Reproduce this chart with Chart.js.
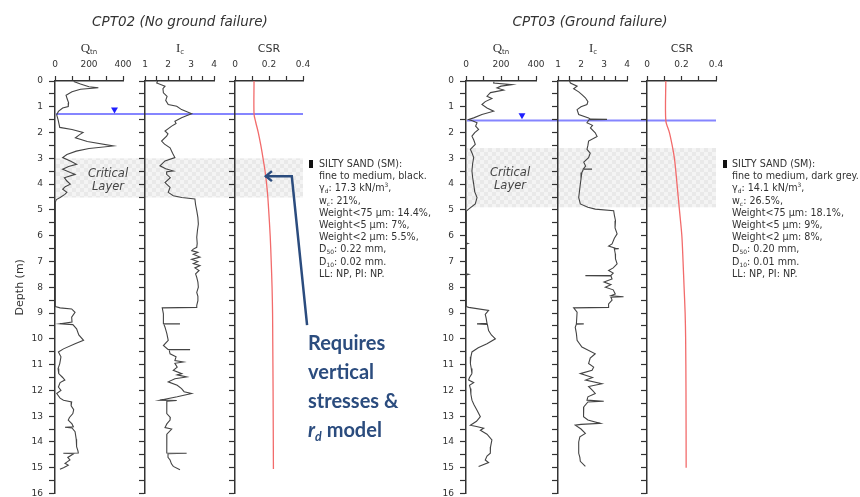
<!DOCTYPE html>
<html lang="en">
<head>
<meta charset="UTF-8">
<title>CPT02 / CPT03 profiles</title>
<style>
  html, body { margin: 0; padding: 0; background: #fff; overflow: hidden; }
  #wrap { position: relative; width: 860px; height: 497px; overflow: hidden; font-family: "DejaVu Sans", sans-serif; color: #333; }
  #wrap canvas { position: absolute; left: 0; top: 0; }
  .t { position: absolute; white-space: nowrap; }
  .ctr { transform: translate(-50%, -50%); text-align: center; }
  .title { font: italic 13.5px "DejaVu Sans", sans-serif; color: #333; }
  .hdr { font: 11px "DejaVu Sans", sans-serif; color: #333; }
  .serif { font: 13px "Liberation Serif", serif; color: #333; }
  sub, sup { font-size: 0.62em; line-height: 0; }
  sub { vertical-align: -0.3em; }
  sup { vertical-align: 0.6em; }
  .hdr sub, .serif sub { font-family: "DejaVu Sans", sans-serif; font-size: 7px; }
  .soil { font: 9.6px/12.2px "DejaVu Sans", sans-serif; color: #333; }
  .bar { position: absolute; width: 3.5px; height: 7.5px; background: #111; }
  .crit { font: italic 11.5px/13px "DejaVu Sans", sans-serif; color: #444; }
  .note { font: bold 20px/29px Lato, sans-serif; color: #2b4c7e; }
</style>
<script src="https://cdn.jsdelivr.net/npm/chart.js"></script>
</head>
<body>
<div id="wrap">
  <canvas id="q02" width="860" height="510"></canvas>
  <canvas id="i02" width="860" height="510"></canvas>
  <canvas id="c02" width="860" height="510"></canvas>
  <canvas id="q03" width="860" height="510"></canvas>
  <canvas id="i03" width="860" height="510"></canvas>
  <canvas id="c03" width="860" height="510"></canvas>

  <div class="t ctr title" style="left:180px; top:21px;">CPT02 (No ground failure)</div>
  <div class="t ctr title" style="left:590px; top:21px;">CPT03 (Ground failure)</div>

  <div class="t ctr serif" style="left:89px; top:48px;">Q<sub>tn</sub></div>
  <div class="t ctr serif" style="left:180px; top:48px;">I<sub>c</sub></div>
  <div class="t ctr hdr" style="left:269px; top:48px;">CSR</div>
  <div class="t ctr serif" style="left:501px; top:48px;">Q<sub>tn</sub></div>
  <div class="t ctr serif" style="left:593px; top:48px;">I<sub>c</sub></div>
  <div class="t ctr hdr" style="left:682px; top:48px;">CSR</div>

  <div class="t ctr crit" style="left:108px; top:179.5px;">Critical<br>Layer</div>
  <div class="t ctr crit" style="left:510px; top:178.5px;">Critical<br>Layer</div>

  <div class="bar" style="left:309px; top:160px;"></div>
  <div class="t soil" style="left:319px; top:158px;">SILTY SAND (SM):<br>fine to medium, black.<br>γ<sub>d</sub>: 17.3 kN/m<sup>3</sup>,<br>w<sub>c</sub>: 21%,<br>Weight&lt;75 µm: 14.4%,<br>Weight&lt;5 µm: 7%,<br>Weight&lt;2 µm: 5.5%,<br>D<sub>50</sub>: 0.22 mm,<br>D<sub>10</sub>: 0.02 mm.<br>LL: NP, PI: NP.</div>

  <div class="bar" style="left:723px; top:160px;"></div>
  <div class="t soil" style="left:732px; top:158px;">SILTY SAND (SM):<br>fine to medium, dark grey.<br>γ<sub>d</sub>: 14.1 kN/m<sup>3</sup>,<br>w<sub>c</sub>: 26.5%,<br>Weight&lt;75 µm: 18.1%,<br>Weight&lt;5 µm: 9%,<br>Weight&lt;2 µm: 8%,<br>D<sub>50</sub>: 0.20 mm,<br>D<sub>10</sub>: 0.01 mm.<br>LL: NP, PI: NP.</div>

  <div class="t note" style="left:308px; top:328px;">Requires<br>vertical<br>stresses &amp;<br><i>r<sub>d</sub></i> model</div>
</div>

<script>
// ---- axes ----
const depthTicks = [0,0.5,1,1.5,2,2.5,3,3.5,4,4.5,5,5.5,6,6.5,7,7.5,8,8.5,9,9.5,10,10.5,11,11.5,12,12.5,13,13.5,14,14.5,15,15.5,16];
const qtnTicks = [0, 100, 200, 300, 400];
const qtnLabels = [0, 200, 400];
const icTicks = [1, 1.5, 2, 2.5, 3, 3.5, 4];
const icLabels = [1, 2, 3, 4];
const csrTicks = [0, 0.1, 0.2, 0.3, 0.4];
const csrLabels = [0, 0.2, 0.4];

// ---- CPT02 (no ground failure) ----
const qtn02Depth = [0.02,0.12,0.22,0.26,0.32,0.42,0.55,0.7,0.85,0.99,1.05,1.18,1.31,1.5,1.8,1.88,2.0,2.08,2.2,2.35,2.52,2.62,2.72,2.85,2.97,3.1,3.23,3.32,3.42,3.55,3.62,3.75,3.88,4.0,4.1,4.2,4.32,4.4,4.52,4.6,4.7,8.75,8.8,8.84,8.97,9.16,9.35,9.42,9.45,9.61,9.85,10.06,10.19,10.39,10.51,10.7,10.96,11.15,11.35,11.5,11.6,11.7,11.87,12.0,12.12,12.3,12.38,12.45,12.6,12.75,12.9,13.05,13.15,13.3,13.41,13.43,13.46,13.6,13.9,14.18,14.35,14.43,14.44,14.46,14.6,14.7,14.83,14.9,15.0,15.06];
const qtn02 = [110,150,200,255,150,100,65,72,80,78,45,20,10,18,28,100,165,145,120,190,343,200,125,70,45,90,127,80,45,90,118,55,70,90,60,45,70,58,30,8,2,2,30,98,118,98,100,29,105,127,140,168,118,50,20,35,28,18,22,45,58,30,20,35,10,30,50,98,95,110,105,85,78,100,108,59,100,118,125,127,135,137,49,110,75,88,59,78,50,29];
const ic02Depth = [0,0.08,0.2,0.3,0.46,0.6,0.75,0.91,0.98,1.11,1.2,1.27,1.35,1.43,1.56,1.65,1.75,1.94,2.05,2.14,2.33,2.45,2.59,2.8,2.97,3.1,3.29,3.4,3.49,3.52,3.62,3.75,3.94,4.13,4.32,4.45,4.52,4.58,4.8,5.03,5.3,5.55,5.8,6.06,6.3,6.45,6.52,6.58,6.65,6.72,6.83,6.92,7.0,7.08,7.16,7.25,7.35,7.48,7.62,7.8,8.0,8.2,8.35,8.52,8.7,8.78,8.8,9.03,9.41,9.42,9.43,9.55,9.8,10.06,10.26,10.41,10.42,10.43,10.58,10.7,10.84,10.9,10.95,11.1,11.22,11.35,11.4,11.48,11.55,11.67,11.8,11.93,12.05,12.12,12.25,12.38,12.39,12.42,12.57,12.75,12.9,13.05,13.15,13.3,13.44,13.5,13.7,13.92,14.2,14.43,14.44,14.46,14.6,14.7,14.85,14.95,15.08];
const ic02 = [1.55,1.51,1.87,1.78,1.8,1.96,1.9,2.01,2.38,2.59,2.85,3.03,2.8,2.59,2.3,2.35,2.16,1.87,2.0,1.94,1.72,1.85,2.09,2.2,2.3,1.87,1.65,1.9,2.23,1.95,1.94,2.1,1.87,2.09,2.01,2.23,2.6,3.17,3.2,3.25,3.3,3.32,3.28,3.25,3.27,3.25,3.1,3.03,3.3,3.1,3.39,3.03,3.3,3.1,3.39,3.17,3.35,3.2,3.25,3.3,3.32,3.25,3.3,3.3,3.25,3.25,1.75,1.8,1.8,2.52,1.82,1.87,1.95,2.01,1.8,2.0,2.96,2.05,2.09,2.35,2.3,2.67,2.3,2.4,2.23,2.6,2.4,2.81,2.3,2.01,2.4,2.59,2.7,3.03,2.4,1.65,2.38,1.95,1.94,1.95,1.95,2.1,2.09,1.95,1.87,2.16,1.95,1.94,1.95,1.95,2.81,2.0,2.0,2.09,2.15,2.23,2.52];
const csr02Depth = [0,1.28,1.6,2,2.5,3,3.5,4,4.5,5,6,7,8,9,10,12,15.05];
const csr02 = [0.112,0.112,0.122,0.137,0.152,0.165,0.177,0.186,0.193,0.198,0.207,0.213,0.218,0.221,0.222,0.224,0.226];
const water02 = 1.28;
const layer02 = [3.0, 4.52];

// ---- CPT03 (ground failure) ----
const qtn03Depth = [0.02,0.08,0.14,0.2,0.27,0.35,0.45,0.59,0.68,0.8,0.91,1.05,1.17,1.3,1.43,1.49,1.55,1.62,1.75,1.88,2.0,2.14,2.3,2.46,2.65,2.8,2.97,3.2,3.49,3.75,4.0,4.3,4.52,4.77,4.97,5.05,6.28,6.3,6.32,7.48,7.5,7.52,8.75,8.78,8.9,9.05,9.2,9.4,9.42,9.44,9.68,9.85,10.0,10.19,10.35,10.51,10.7,10.96,11.15,11.35,11.5,11.6,11.7,11.8,11.93,12.15,12.38,12.55,12.77,13.02,13.2,13.35,13.4,13.47,13.55,13.7,13.92,14.2,14.44,14.55,14.7,14.8,14.95];
const qtn03 = [160,158,263,200,177,215,140,120,148,110,91,120,158,91,44,15,40,63,55,72,50,34,45,53,25,35,44,38,34,38,44,50,63,53,15,2,2,12,2,2,15,2,2,15,129,110,115,120,63,122,129,145,168,120,70,34,28,25,30,34,20,15,44,20,25,28,34,45,63,82,60,25,60,101,82,120,148,140,139,120,110,129,72];
const ic03Depth = [0,0.08,0.2,0.3,0.42,0.53,0.65,0.8,0.91,1.0,1.11,1.3,1.43,1.48,1.49,1.5,1.62,1.72,1.82,2.01,2.15,2.33,2.5,2.65,2.8,2.97,3.15,3.3,3.41,3.42,3.43,3.55,3.8,4.0,4.3,4.52,4.77,4.9,4.97,5.03,5.2,5.42,5.7,5.93,6.1,6.32,6.4,6.49,6.5,6.51,6.7,6.9,7.09,7.25,7.35,7.45,7.54,7.55,7.56,7.68,7.8,7.9,8.0,8.1,8.26,8.33,8.37,8.39,8.5,8.65,8.78,8.8,8.97,9.41,9.42,9.43,9.55,9.8,10.06,10.32,10.58,10.75,10.96,11.1,11.22,11.35,11.5,11.6,11.74,11.85,12.0,12.12,12.25,12.38,12.42,12.45,12.64,12.85,13.02,13.15,13.28,13.32,13.35,13.5,13.67,13.8,14.0,14.2,14.44,14.6,14.75,14.95];
const ic03 = [1.5,1.54,1.83,1.68,1.9,2.04,2.19,2.3,2.26,2.0,1.83,1.9,2.33,2.4,3.13,2.35,2.26,2.5,2.41,2.62,2.7,2.33,2.3,2.26,2.4,2.33,2.12,2.2,2.1,2.48,2.1,2.04,2.0,1.97,1.93,1.9,1.97,2.3,2.62,3.42,3.45,3.5,3.48,3.57,3.45,3.35,3.2,3.5,3.64,3.45,3.49,3.5,3.57,3.4,3.2,3.4,3.3,2.19,3.3,3.35,3.0,3.3,3.06,3.4,3.49,3.3,3.85,3.3,3.35,3.2,3.2,1.68,1.83,1.8,2.12,1.8,1.75,1.8,1.83,2.04,2.62,2.4,2.33,2.55,2.48,1.97,2.5,2.2,2.91,2.33,2.5,2.62,2.3,2.26,2.99,2.3,2.12,2.1,2.12,2.3,2.84,2.0,1.75,2.0,2.19,1.95,1.9,1.9,1.9,1.95,1.97,2.19];
const csr03Depth = [0,1.53,2,2.5,3,3.5,4,4.5,5,6,7,8,9,10,12,15];
const csr03 = [0.109,0.109,0.13,0.146,0.159,0.167,0.174,0.181,0.188,0.202,0.209,0.215,0.221,0.224,0.226,0.227];
const water03 = 1.53;
const layer03 = [2.6, 4.9];

// water-table symbol (value, depth) and the note arrow path (CSR, depth)
const wtMark02 = [350, 1.106];
const wtMark03 = [320, 1.33];
const arrowPath = [[0.424, 9.47], [0.334, 3.69], [0.176, 3.69]];

// ---- layout ----
const CW = 860, CH = 510, TOP = 81, BOTTOM = 493.5, XAXIS_H = 22;
const AXIS = '#333';
const TRACE = '#444';
const CSR_RED = '#f26b6b';

const checker = document.createElement('canvas');
checker.width = 8; checker.height = 8;
(function () {
  const g = checker.getContext('2d');
  g.fillStyle = '#e9e9e9'; g.fillRect(0, 0, 8, 8);
  g.fillStyle = '#f4f4f4'; g.fillRect(0, 0, 4, 4); g.fillRect(4, 4, 4, 4);
})();

const layerPlugin = {
  id: 'layer',
  beforeDraw(chart, args, o) {
    const ctx = chart.ctx, y = chart.scales.y;
    ctx.save();
    ctx.fillStyle = ctx.createPattern(checker, 'repeat');
    const y1 = y.getPixelForValue(o.band[0]), y2 = y.getPixelForValue(o.band[1]);
    ctx.fillRect(o.left, y1, o.right - o.left, y2 - y1);
    const wy = y.getPixelForValue(o.water);
    ctx.strokeStyle = '#8585ff';
    ctx.lineWidth = 2;
    ctx.beginPath(); ctx.moveTo(o.left, wy); ctx.lineTo(o.right, wy); ctx.stroke();
    ctx.restore();
  }
};

const arrowPlugin = {
  id: 'arrow',
  afterDraw(chart, args, o) {
    const ctx = chart.ctx, x = chart.scales.x, y = chart.scales.y;
    const p = o.path.map(v => [x.getPixelForValue(v[0]), y.getPixelForValue(v[1])]);
    ctx.save();
    ctx.strokeStyle = '#2b4c7e';
    ctx.lineWidth = 2.5;
    ctx.beginPath();
    ctx.moveTo(p[0][0], p[0][1]);
    for (let i = 1; i < p.length; i++) ctx.lineTo(p[i][0], p[i][1]);
    ctx.stroke();
    const tip = p[p.length - 1];
    ctx.beginPath();
    ctx.moveTo(tip[0] + 7, tip[1] - 5);
    ctx.lineTo(tip[0] + 1, tip[1]);
    ctx.lineTo(tip[0] + 7, tip[1] + 5);
    ctx.stroke();
    ctx.restore();
  }
};

function trace(depths, values, color, width, tension) {
  return {
    data: depths.map((d, i) => ({ x: values[i], y: d })),
    showLine: true, borderColor: color, borderWidth: width,
    pointRadius: 0, tension: tension || 0
  };
}

function wtMarker(m) {
  return {
    data: [{ x: m[0], y: m[1] }],
    showLine: false, pointStyle: 'triangle', rotation: 180,
    pointRadius: 4, backgroundColor: '#1f1fff', borderColor: '#1f1fff', borderWidth: 0
  };
}

function panel(id, left, right, yWidth, xs, ys, datasets, plugins, pluginOpts) {
  const font = { family: 'DejaVu Sans', size: 9, lineHeight: 1.2 };
  return new Chart(document.getElementById(id), {
    type: 'scatter',
    data: { datasets },
    plugins: plugins || [],
    options: {
      responsive: false, animation: false, events: [],
      layout: { padding: { left: left - yWidth, right: CW - right, top: TOP - XAXIS_H, bottom: CH - BOTTOM } },
      plugins: Object.assign({ legend: { display: false }, tooltip: { enabled: false } }, pluginOpts || {}),
      scales: {
        x: {
          type: 'linear', position: 'top', min: xs.min, max: xs.max,
          afterBuildTicks: s => { s.ticks = xs.ticks.map(v => ({ value: v })); },
          afterFit: s => { s.height = XAXIS_H; },
          grid: { drawOnChartArea: false, drawTicks: true, tickLength: 5, tickColor: AXIS, tickWidth: 1.2 },
          border: { display: true, color: AXIS, width: 1.5 },
          ticks: {
            autoSkip: false, maxRotation: 0, padding: 6, color: AXIS, font,
            callback: v => xs.labels.includes(v) ? String(v) : ''
          }
        },
        y: {
          type: 'linear', reverse: true, min: 0, max: 16,
          afterBuildTicks: s => { s.ticks = depthTicks.map(v => ({ value: v })); },
          afterFit: s => { s.width = yWidth; },
          grid: { drawOnChartArea: false, drawTicks: true, tickLength: 6, tickColor: AXIS, tickWidth: 1.2 },
          border: { display: true, color: AXIS, width: 1.5 },
          ticks: {
            autoSkip: false, padding: 6, color: AXIS, font,
            callback: v => (ys.labels && Number.isInteger(v)) ? String(v) : ''
          },
          title: ys.title
            ? { display: true, text: ys.title, color: AXIS, font: { family: 'DejaVu Sans', size: 11 }, padding: { top: 4, bottom: 4 } }
            : { display: false }
        }
      }
    }
  });
}

const qtnAxis = { min: 0, max: 400, ticks: qtnTicks, labels: qtnLabels };
const icAxis = { min: 1, max: 4, ticks: icTicks, labels: icLabels };
const csrAxis = { min: 0, max: 0.4, ticks: csrTicks, labels: csrLabels };

// CPT02
panel('q02', 55, 123, 45, qtnAxis, { labels: true, title: 'Depth (m)' },
  [trace(qtn02Depth, qtn02, TRACE, 1.1), wtMarker(wtMark02)],
  [layerPlugin], { layer: { band: layer02, water: water02, left: 56, right: 303 } });
panel('i02', 145, 214, 10, icAxis, { labels: false },
  [trace(ic02Depth, ic02, TRACE, 1.1)]);
panel('c02', 235, 303, 10, csrAxis, { labels: false },
  [trace(csr02Depth, csr02, CSR_RED, 1.3, 0.3)],
  [arrowPlugin], { arrow: { path: arrowPath } });

// CPT03
panel('q03', 466, 536, 30, qtnAxis, { labels: true },
  [trace(qtn03Depth, qtn03, TRACE, 1.1), wtMarker(wtMark03)],
  [layerPlugin], { layer: { band: layer03, water: water03, left: 467, right: 716 } });
panel('i03', 558, 627, 10, icAxis, { labels: false },
  [trace(ic03Depth, ic03, TRACE, 1.1)]);
panel('c03', 647, 716, 10, csrAxis, { labels: false },
  [trace(csr03Depth, csr03, CSR_RED, 1.3, 0.3)]);
</script>
</body>
</html>
